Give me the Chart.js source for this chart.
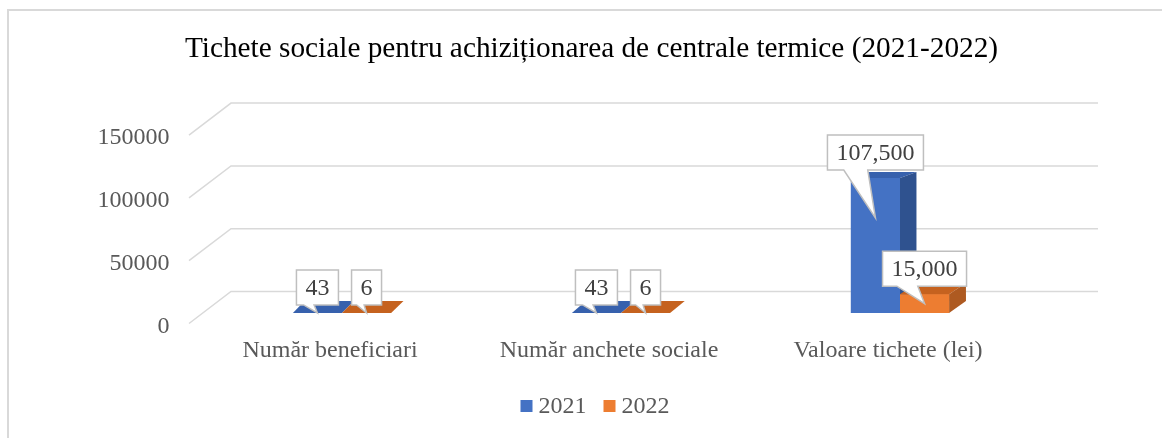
<!DOCTYPE html>
<html>
<head>
<meta charset="utf-8">
<script src="https://cdn.jsdelivr.net/npm/chart.js@4.4.0/dist/chart.umd.min.js"></script>
<style>
    html, body { margin: 0; padding: 0; background: #fff; }
    #wrap { position: relative; width: 1162px; height: 438px; overflow: hidden; }
    #frame { position: absolute; left: 7px; top: 9px; width: 1200px; height: 500px; border: 2px solid #d9d9d9; box-sizing: border-box; pointer-events: none; }
    canvas { position: absolute; left: 0; top: 0; }
</style>
</head>
<body>
<div id="wrap">
    <canvas id="myChart" width="1162" height="438"></canvas>
    <div id="frame"></div>
</div>
<script>
// chart data
const chartTitle = 'Tichete sociale pentru achiziționarea de centrale termice (2021-2022)';
const categories = ['Număr beneficiari', 'Număr anchete sociale', 'Valoare tichete (lei)'];
const seriesNames = ['2021', '2022'];
const values2021 = [43, 43, 107500];
const values2022 = [6, 6, 15000];
const yTicks = [0, 50000, 100000, 150000];

const FONT = '"Liberation Serif", "Times New Roman", serif';
const colors = [
    { front: '#4472c4', top: '#3761ad', side: '#2f528f' },
    { front: '#ed7d31', top: '#c5621f', side: '#ae5a21' }
];

// fake 3d depth offset for a point of the plot
function depth(chart, x, y) {
    const ca = chart.chartArea;
    return [12 + 0.008 * (x - ca.left - 139), -12 + 0.044 * (ca.bottom - y)];
}

function poly(ctx, pts, color) {
    ctx.beginPath();
    pts.forEach((p, i) => i ? ctx.lineTo(p[0], p[1]) : ctx.moveTo(p[0], p[1]));
    ctx.closePath();
    ctx.fillStyle = color;
    ctx.fill();
}

// back wall grid lines with the slanted floor edge
const gridPlugin = {
    id: 'grid3d',
    beforeDatasetsDraw(chart) {
        const ctx = chart.ctx;
        const ca = chart.chartArea;
        const y = chart.scales.y;
        ctx.save();
        ctx.strokeStyle = '#d9d9d9';
        ctx.lineWidth = 1.5;
        yTicks.forEach(v => {
            const py = y.getPixelForValue(v);
            ctx.beginPath();
            ctx.moveTo(ca.left - 13.5, py + 10.5);
            ctx.lineTo(ca.left + 28.5, py - 21.5);
            ctx.lineTo(ca.right + 58.5, py - 21.5);
            ctx.stroke();
        });
        ctx.restore();
    }
};

// bar sides, tops and callout labels
const barPlugin = {
    id: 'bars3d',
    afterDatasetsDraw(chart) {
        const ctx = chart.ctx;
        ctx.save();
        const metas = chart.data.datasets.map((d, i) => chart.getDatasetMeta(i));
        categories.forEach((c, i) => {
            metas.forEach((meta, di) => {
                const el = meta.data[i];
                const p = el.getProps(['x', 'y', 'base', 'width'], true);
                const l = p.x - p.width / 2, r = p.x + p.width / 2;
                const b = (x, yy) => { const d = depth(chart, x, yy); return [x + d[0], yy + d[1]]; };
                ctx.fillStyle = colors[di].front;
                ctx.fillRect(l, p.y, p.width, p.base - p.y);
                poly(ctx, [[l, p.y], [r, p.y], b(r, p.y), b(l, p.y)], colors[di].top);
                poly(ctx, [[r, p.y], b(r, p.y), b(r, p.base), [r, p.base]], colors[di].side);
            });
        });

        ctx.font = '24px ' + FONT;
        ctx.textAlign = 'center';
        ctx.textBaseline = 'middle';
        metas.forEach((meta, di) => {
            meta.data.forEach((el, i) => {
                const p = el.getProps(['x', 'y', 'base'], true);
                const txt = chart.data.datasets[di].data[i].toLocaleString('en-US');
                const w = ctx.measureText(txt).width + 18, h = 35;
                const left = p.x - w / 2, bottom = p.y - 8, top = bottom - h;
                const tipY = Math.min(p.y + 40, (p.y + p.base) / 2);
                ctx.beginPath();
                ctx.moveTo(left, top);
                ctx.lineTo(left + w, top);
                ctx.lineTo(left + w, bottom);
                ctx.lineTo(left + 0.42 * w, bottom);
                ctx.lineTo(p.x, tipY);
                ctx.lineTo(left + 0.17 * w, bottom);
                ctx.lineTo(left, bottom);
                ctx.closePath();
                ctx.fillStyle = '#fff';
                ctx.fill();
                ctx.strokeStyle = '#bfbfbf';
                ctx.lineWidth = 1.5;
                ctx.stroke();
                ctx.fillStyle = '#404040';
                ctx.fillText(txt, p.x, top + h / 2 + 1);
            });
        });
        ctx.restore();
    }
};

// title and legend drawn over the whole canvas width
const textPlugin = {
    id: 'titleLegend',
    afterDraw(chart) {
        const ctx = chart.ctx;
        ctx.save();
        ctx.textBaseline = 'middle';
        ctx.font = '29.3px ' + FONT;
        ctx.fillStyle = '#000';
        ctx.textAlign = 'center';
        ctx.fillText(chartTitle, 591.5, 49);

        ctx.font = '24px ' + FONT;
        ctx.textAlign = 'left';
        const items = chart.data.datasets.map((d, i) => ({ label: d.label, color: colors[i].front, w: ctx.measureText(d.label).width }));
        const box = 12, gap = 6, spacing = 17;
        const total = items.reduce((s, it) => s + box + gap + it.w, 0) + spacing * (items.length - 1);
        let x = 595 - total / 2;
        const y = 406;
        items.forEach(it => {
            ctx.fillStyle = it.color;
            ctx.fillRect(x, y - 6, box, box);
            x += box + gap;
            ctx.fillStyle = '#595959';
            ctx.fillText(it.label, x, y + 1);
            x += it.w + spacing;
        });
        ctx.restore();
    }
};

const ctx = document.getElementById('myChart').getContext('2d');
const chart = new Chart(ctx, {
    type: 'bar',
    data: {
        labels: categories,
        datasets: [
            { label: seriesNames[0], data: values2021, backgroundColor: colors[0].front },
            { label: seriesNames[1], data: values2022, backgroundColor: colors[1].front }
        ]
    },
    options: {
        responsive: false,
        animation: false,
        categoryPercentage: 0.352,
        barPercentage: 1,
        layout: { padding: { left: 0, right: 122.5, top: 124.6, bottom: 0 } },
        plugins: {
            legend: { display: false },
            tooltip: { enabled: false },
            title: { display: false }
        },
        scales: {
            x: {
                grid: { display: false, drawTicks: false },
                border: { display: false },
                ticks: { padding: 23, labelOffset: -12, color: '#595959', font: { family: FONT, size: 24 }, maxRotation: 0, autoSkip: false },
                afterFit: s => { s.height = 125; }
            },
            y: {
                min: yTicks[0],
                max: yTicks[yTicks.length - 1],
                afterBuildTicks: s => { s.ticks = yTicks.map(v => ({ value: v })); },
                grid: { display: false, drawTicks: false },
                border: { display: false },
                ticks: { padding: 33, labelOffset: 13.5, color: '#595959', font: { family: FONT, size: 24 }, callback: v => String(v) },
                afterFit: s => { s.width = 202.5; }
            }
        }
    },
    plugins: [gridPlugin, barPlugin, textPlugin]
});
</script>
</body>
</html>
